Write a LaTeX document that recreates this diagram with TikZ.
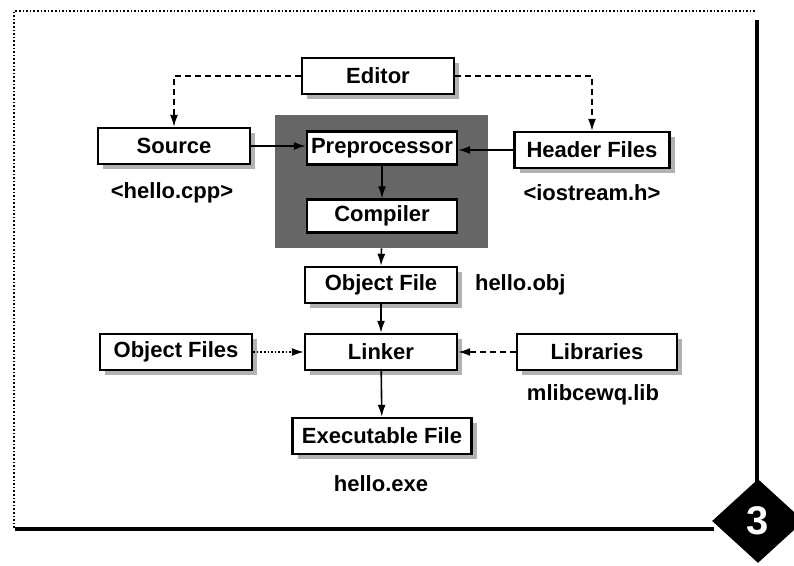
\documentclass[tikz,border=0pt]{standalone}
\usepackage{fontspec}
\setmainfont{Liberation Sans}
\usetikzlibrary{arrows.meta,shadows,shapes.geometric}

\begin{document}
\begin{tikzpicture}[
    x=0.5pt,y=-0.5pt,
    box/.style={draw,line width=1.2pt,fill=white,minimum width=76pt,minimum height=18pt,
      inner sep=1pt,font=\bfseries\fontsize{11}{13}\selectfont},
    sbox/.style={box,drop shadow={shadow xshift=2.5pt,shadow yshift=-2.5pt,fill=black!30,opacity=1}},
    fname/.style={font=\bfseries\fontsize{11}{13}\selectfont},
    link/.style={line width=0.8pt,-{Latex[length=6pt,width=4pt]}},
  ]
  \useasboundingbox (0,0) rectangle (794,566);

  % frame
  \draw[densely dotted,line width=0.8pt] (14,528) -- (14,11) -- (755,11);
  \draw[line width=2pt] (757,20) -- (757,482);
  \draw[line width=2pt] (15,529) -- (714,529);

  % compiler block
  \node[fill=black!60,minimum width=106.5pt,minimum height=66.5pt] (cpp) at (381.5,181.5) {};
  \node[box,minimum width=75pt,minimum height=16.5pt] (pre) at (382,148) {Preprocessor};
  \node[box,minimum width=75pt,minimum height=16.5pt] (comp) at (382,216) {Compiler};

  \node[sbox] (editor) at (378,76) {Editor};
  \node[sbox] (source) at (174,146) {Source};
  \node[sbox,minimum width=77.5pt] (header) at (592,150) {Header Files};
  \node[sbox] (objfile) at (381,285) {Object File};
  \node[sbox] (linker) at (381,352) {Linker};
  \node[sbox,minimum width=89.5pt] (exe) at (382,436) {Executable File};
  \node[sbox] (objfiles) at (176,352) {Object Files};
  \node[sbox,minimum width=80pt] (libs) at (597,352) {Libraries};

  \node[fname] (cpplbl) at (172,193) {<hello.cpp>};
  \node[fname] (hdrlbl) at (592,193) {<iostream.h>};
  \node[fname,anchor=west] (objlbl) at (468,285) {hello.obj};
  \node[fname] (liblbl) at (593,395) {mlibcewq.lib};
  \node[fname] (exelbl) at (381,484) {hello.exe};

  \draw[link,densely dashed] (editor.west) -| (source.north);
  \draw[link,densely dashed] (editor.east) -| (header.north);
  \draw[link] (source.east) -- (source.east -| pre.west);
  \draw[link] (header.west) -- (header.west -| pre.east);
  \draw[link] (pre) -- (comp);
  \draw[link] (cpp.south) -- (objfile.north);
  \draw[link] (objfile) -- (linker);
  \draw[link] (linker) -- (exe);
  \draw[link,densely dotted] (objfiles) -- (linker);
  \draw[link,densely dashed] (libs) -- (linker);

  \node[diamond,fill=black,minimum width=46pt,minimum height=42pt,inner sep=0pt,
    text=white,font=\bfseries\fontsize{20}{20}\selectfont] (badge) at (758,521) {3};
\end{tikzpicture}
\end{document}
